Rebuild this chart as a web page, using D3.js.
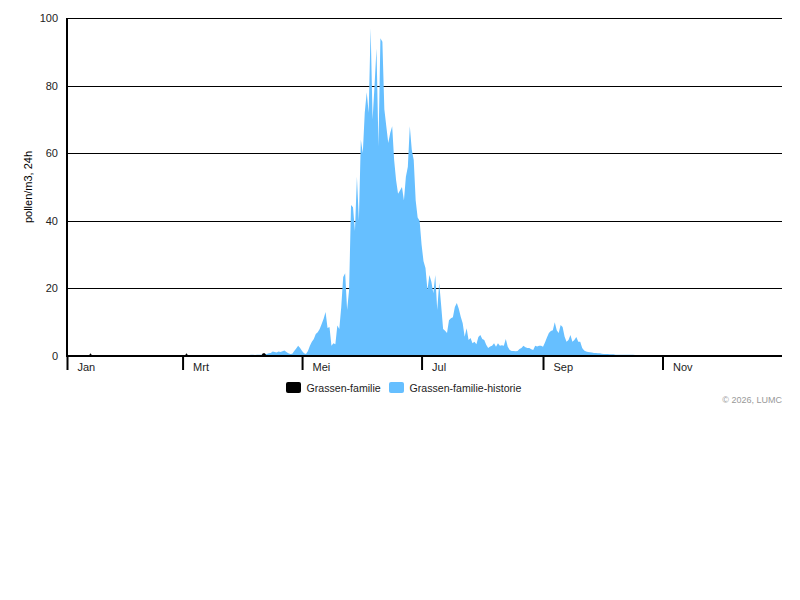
<!DOCTYPE html>
<html><head><meta charset="utf-8">
<script src="https://cdn.jsdelivr.net/npm/d3@7"></script>
<style>body{margin:0;background:#fff} text{font-family:"Liberation Sans",Arial,sans-serif}</style>
</head><body><svg id="c" width="800" height="600"></svg>
<script>
const monthLabels = ["Jan","Mrt","Mei","Jul","Sep","Nov"];
const monthIndex = [0,2,4,6,8,10];
const yTicks = [0,20,40,60,80,100];
const seriesNames = ["Grassen-familie","Grassen-familie-historie"];
const seriesColors = ["#000000","#66bfff"];
const yTitle = "pollen/m3, 24h";
const credit = "\u00a9 2026, LUMC";

// daily values (day 0 = 1 Jan) for the historical series
const historie = [
0,0,0,0,0,0,0,0,0,0,
0,0,0,0,0,0,0,0,0,0,
0,0,0,0,0,0,0,0,0,0,
0,0,0,0,0.2,0.2,0.2,0.2,0.2,0.2,
0.2,0.2,0,0,0,0,0,0,0,0,
0,0,0,0.2,0.2,0.2,0.2,0.1,0,0,
0,0.1,0.1,0.1,0.2,0.2,0.2,0.2,0.2,0.1,
0.1,0.1,0.1,0.1,0.1,0.2,0.3,0.3,0.3,0.3,
0.3,0.3,0.3,0.3,0.3,0.3,0.3,0.3,0.3,0.3,
0.3,0.3,0.3,0.3,0.4,0.4,0.3,0.4,0.4,0.4,
0.4,0.5,0.6,0.8,0.9,1.3,1.2,1.0,1.3,1.2,
1.4,1.6,1.2,0.8,0.6,0.7,1.5,2.2,3.0,2.4,
1.5,0.8,0.6,1.5,3.0,4.2,5.0,6.5,7.0,8.0,
9.5,11,13,8.3,8.6,3.0,3.8,3.5,9.0,8.0,
14.5,23.4,24.5,13.6,19.5,44.7,44,37,53,40,
64,60,72,78,72,97,70,80,91,62,
94,93,73,68,63,66,68,58,52,48,
49,50,46,53,56,68,61,58,46,41,
40,33,28,26,19.5,24,22,18.6,24,13.6,
21.6,15,8,7.5,6.8,10.6,11.2,11.5,14.5,15.7,
14,11.6,9.7,5.7,8.2,4.7,5.3,3.8,4.2,3.5,
5.6,6.2,5,4.7,3.3,2.4,2.8,3,3.8,2.7,
3.8,3,3.2,3,5,2.7,1.8,1.5,1.5,1.4,
1.5,2.1,2.4,3,2.6,2.4,2.4,2.0,1.8,3,
2.8,3,3,2.7,4,5.5,6.8,7.4,7.6,10,
7.6,6.8,9.2,8.6,5.8,4.2,4.7,6.2,4.2,4.7,
5.6,4.2,4.2,2.4,1.6,1.3,1.2,1.1,1.0,0.9,
0.9,0.8,0.8,0.7,0.6,0.6,0.6,0.5,0.5,0.5,
0.4,0.4,0.4,0.4,0.4,0.4,0.4,0.4,0.4,0.4,
0.3,0.3,0.3,0.3,0.3,0.3,0.3,0.3,0.3,0.3,
0.3,0.3,0.3,0.3,0.3,0.3,0.3,0.3,0.3,0.3,
0.3,0.3,0.3,0.3,0.3,0.3,0.3,0.3,0.3,0.3,
0.2,0.2,0.2,0.2,0.2,0.2,0.2,0.2,0.2,0.2,
0.2,0.2,0.2,0.2,0.2,0.2,0.2,0.2,0.2,0.2,
0.2,0.2,0.2,0.2,0.2,0.2,0.2,0.2,0.2,0.2,
0.2,0.2,0.2,0.2,0.2,0.2,0.2,0.2,0.1,0.1,
0.1,0.1,0.1,0.1,0.1
];

// current-year series (day 0 = 1 Jan), data so far
const huidig = [
0,0,0,0,0,0,0,0,0,0,
0,0,0.8,0,0,0,0,0,0,0,
0,0,0,0,0,0,0,0,0,0,
0,0,0,0,0,0,0,0,0,0,
0,0,0,0,0,0,0,0,0,0,
0,0,0,0,0,0,0,0,0,0,
0,0.8,0,0,0,0,0,0,0,0,
0,0,0,0,0,0,0,0,0,0,
0,0,0,0,0,0,0,0,0,0,
0,0,0,0,0,0,0,0,0,0,
0.8,0.8,0
];

const svg = d3.select("#c");
const x0 = Date.UTC(2025,0,1);
const dayDate = i => new Date(x0 + i*86400000);
const x = d3.scaleUtc().domain([dayDate(0), dayDate(365)]).range([67,782]);
const y = d3.scaleLinear().domain([0,100]).range([356,18]);
const FONT = "Liberation Sans, Arial, sans-serif";

// gridlines
svg.append("g").selectAll("line").data(yTicks.filter(t=>t>0)).join("line")
  .attr("x1",67).attr("x2",782)
  .attr("y1",d=>Math.round(y(d))+0.5).attr("y2",d=>Math.round(y(d))+0.5)
  .attr("stroke","#000").attr("stroke-width",1);

// areas
const area = d3.area().x((d,i)=>x(dayDate(i))).y0(y(0)).y1(d=>y(d));
svg.append("path").datum(historie).attr("d",area).attr("fill",seriesColors[1]);
svg.append("path").datum(huidig).attr("d",area).attr("fill",seriesColors[0]);

// y axis
const yAxis = d3.axisLeft(y).tickValues(yTicks).tickSize(0).tickPadding(9);
const gy = svg.append("g").attr("transform","translate(67,0)").call(yAxis);
gy.select(".domain").remove();
gy.selectAll("text").attr("font-size",11).attr("fill","#222").attr("font-family",FONT);
svg.append("line").attr("x1",67).attr("x2",67).attr("y1",18).attr("y2",357)
  .attr("stroke","#000").attr("stroke-width",2);

// x axis
const xAxis = d3.axisBottom(x)
  .tickValues(monthIndex.map(m=>new Date(Date.UTC(2025,m,1))))
  .tickFormat((d,i)=>monthLabels[i]).tickSize(14);
const gx = svg.append("g").attr("transform","translate(0,356)").call(xAxis);
gx.select(".domain").remove();
gx.selectAll(".tick line").attr("stroke","#000").attr("stroke-width",2).attr("y1",1);
gx.selectAll(".tick text").attr("x",10).attr("y",15).attr("dy",0).attr("text-anchor","start")
  .attr("font-size",11).attr("fill","#222").attr("font-family",FONT);
svg.append("line").attr("x1",66).attr("x2",782).attr("y1",356).attr("y2",356)
  .attr("stroke","#000").attr("stroke-width",2);

// y title
svg.append("text").attr("transform","translate(32,187) rotate(-90)")
  .attr("text-anchor","middle").attr("font-size",11).attr("fill","#000").text(yTitle);

// legend
const legX = [286, 389];
const lg = svg.append("g").selectAll("g").data(seriesNames).join("g")
  .attr("transform",(d,i)=>`translate(${legX[i]},382)`);
lg.append("rect").attr("width",15).attr("height",11).attr("rx",2).attr("fill",(d,i)=>seriesColors[i]);
lg.append("text").attr("x",20.5).attr("y",9.5).attr("font-size",10.6).attr("fill","#222").text(d=>d);

// credit
svg.append("text").attr("x",782).attr("y",403).attr("text-anchor","end")
  .attr("font-size",9).attr("fill","#999").text(credit);
</script></body></html>
